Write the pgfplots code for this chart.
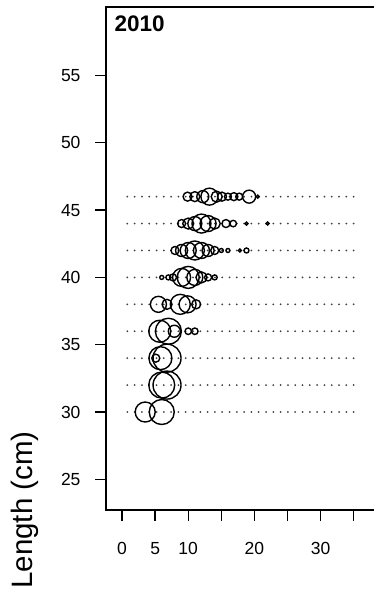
\documentclass[border=0pt]{standalone}
\usepackage{fontspec}
\setmainfont{Liberation Sans}
\usepackage{pgfplots}
\usepackage{pgfplotstable}
\pgfplotsset{compat=1.18}

\pgfplotstableread{
x y d
3.5 30 20
6.0 30 25
6.0 32 26
6.8 32 28
5.1 34 8
5.8 34 23
6.8 34 28
5.7 36 22
7.0 36 26
7.9 36 12
10.0 36 6.5
11.0 36 6.5
5.5 38 16
6.8 38 10
8.8 38 20
9.9 38 17
11.2 38 9
6.0 40 4
7.0 40 5
7.7 40 7
9.0 40 18
10.0 40 22
11.0 40 16
12.0 40 11
13.0 40 7
14.0 40 5
8 42 8
9 42 12
10 42 16
11 42 19
12 42 16
13 42 12
14 42 8
15 42 4
16 42 4
17.8 42 3
18.8 42 5
9 44 8
10 44 11
11 44 14
12 44 19
13 44 16
14 44 11
15.7 44 8
16.8 44 6.5
18.8 44 3
22 44 3
9.9 46 9
11 46 10
12.2 46 12
13.2 46 17
14.3 46 11
15.1 46 9
16 46 7
16.9 46 8
17.7 46 7
19.2 46 13
20.5 46 3
}\bubbles

\begin{document}
\begin{tikzpicture}
\useasboundingbox (0,0) rectangle (374pt,597pt);
\begin{axis}[
  at={(106pt,87pt)}, anchor=south west,
  scale only axis, width=274pt, height=503pt,
  xmin=-2.42, xmax=38.97, ymin=22.72, ymax=60.09,
  xtick={0,5,...,35}, xticklabels={0,5,10,,20,,30,},
  ytick={25,30,...,55},
  xtick pos=bottom, ytick pos=left,
  tick align=outside, major tick length=11pt,
  tick style={line width=1.3pt, black},
  axis line style={line width=1.6pt},
  ticklabel style={font=\fontsize{17.5}{20}\selectfont},
  yticklabel shift=11pt,
  xticklabel shift=18pt,
  /pgf/number format/assume math mode=true,
]
\pgfplotsinvokeforeach{30,32,...,46}{
  \addplot[color=black!75, line width=2pt, dash pattern=on 0pt off 7.3pt, line cap=round] coordinates {(0.8,#1) (35.2,#1)};
}
\addplot[scatter, only marks, mark=o, line width=1.4pt,
  scatter/use mapped color={draw=black},
  visualization depends on={\thisrow{d}/2 \as \perpointmarksize},
  scatter/@pre marker code/.append style={/tikz/mark size=\perpointmarksize}]
  table[x=x,y=y] {\bubbles};
\end{axis}
\node[anchor=base west, font=\bfseries\fontsize{22.5}{26}\selectfont] at (111pt,565.5pt) {2010};
\node[rotate=90, font=\fontsize{29.5}{32}\selectfont] at (25pt,87pt) {Length (cm)};
\end{tikzpicture}
\end{document}
